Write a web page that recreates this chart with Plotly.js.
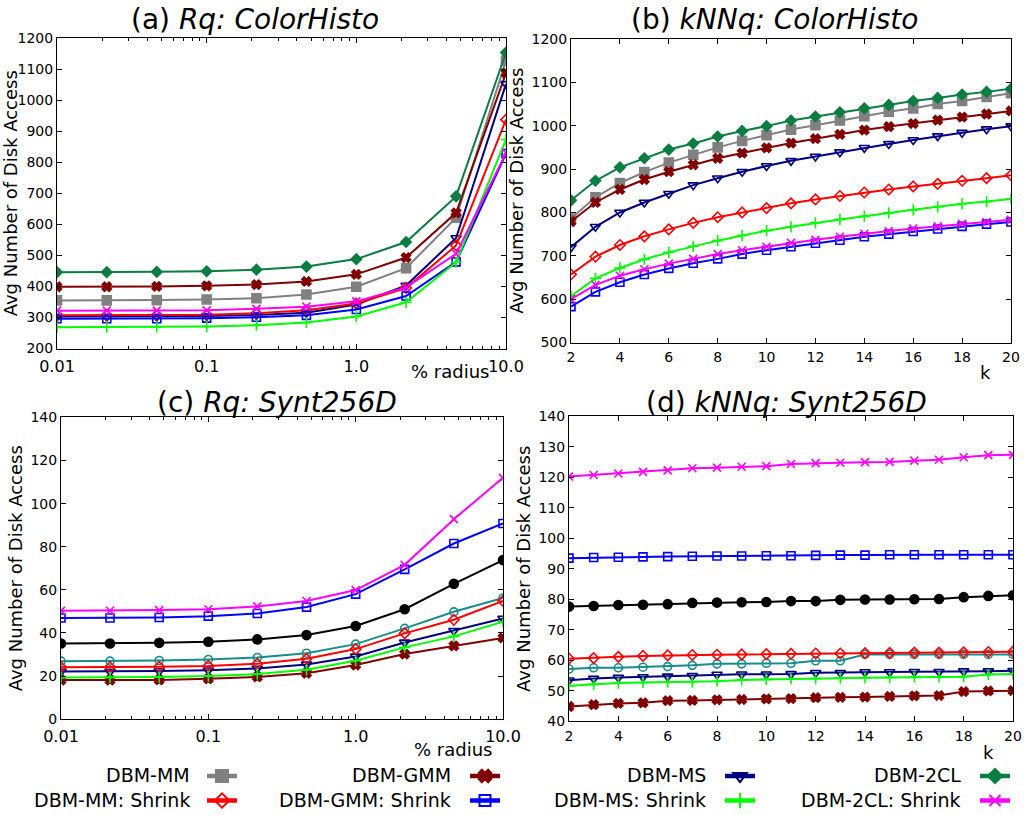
<!DOCTYPE html>
<html>
<head>
<meta charset="utf-8">
<script src="https://cdn.plot.ly/plotly-3.0.1.min.js"></script>
<style>html,body{margin:0;padding:0;background:#fff;}#chart{width:1024px;height:815px;}</style>
</head>
<body>
<div id="chart"></div>
<script>
// ---------- DATA ----------
const radiusX = [0.01, 0.0215, 0.0464, 0.1, 0.215, 0.464, 1.0, 2.15, 4.64, 10.0];
const kX = [2,3,4,5,6,7,8,9,10,11,12,13,14,15,16,17,18,19,20];

const seriesNames = ["DBM-MM","DBM-GMM","DBM-MS","DBM-2CL","DBM-MM: Shrink","DBM-GMM: Shrink","DBM-MS: Shrink","DBM-2CL: Shrink"];
const seriesKeys  = ["mm","gmm","ms","cl2","mmS","gmmS","msS","cl2S"];

// (a) Rq: ColorHisto
const a_mm   = [355,355,356,358,362,374,399,459,621,1127];
const a_gmm  = [399,399,400,402,406,416,439,493,637,1087];
const a_ms   = [303,303,303,305,308,315,342,403,556,1052];
const a_cl2  = [446,446,447,449,454,464,488,543,690,1153];
const a_mmS  = [307,307,308,309,314,323,345,395,532,937];
const a_gmmS = [296,296,296,298,301,307,326,369,479,828];
const a_msS  = [269,269,270,271,275,284,303,349,478,873];
const a_cl2S = [322,322,322,323,328,335,352,397,505,830];

// (b) kNNq: ColorHisto
const b_mm   = [786,835,868,893,915,933,950,965,978,991,1001,1012,1022,1032,1040,1050,1057,1066,1075];
const b_gmm  = [779,823,853,876,894,910,925,937,949,960,970,980,990,998,1005,1013,1020,1027,1034];
const b_ms   = [720,767,800,823,843,863,879,894,907,919,929,939,949,958,967,976,984,992,999];
const b_cl2  = [828,873,904,925,945,959,975,988,999,1012,1021,1031,1040,1048,1057,1064,1072,1078,1085];
const b_mmS  = [657,698,725,745,761,776,789,800,810,821,830,838,846,853,860,866,873,879,886];
const b_gmmS = [583,617,639,657,671,683,693,704,713,721,729,736,744,750,756,762,768,773,778];
const b_msS  = [607,648,672,692,708,722,735,747,758,767,776,784,791,799,806,813,820,825,831];
const b_cl2S = [600,633,654,669,682,693,704,713,721,730,737,744,751,757,763,768,774,778,783];

// (c) Rq: Synt256D
const c_mm   = [35.1,35.1,35.4,35.9,37.0,39.0,43.2,51.0,62.8,73.8];
const c_gmm  = [18.1,18.1,18.2,18.7,19.6,21.3,25.1,30.2,34.0,37.7];
const c_ms   = [22.1,22.1,22.3,22.7,23.5,25.4,29.1,35.6,41.0,46.7];
const c_cl2  = [26.9,26.9,27.2,27.7,28.6,30.6,34.8,42.1,49.8,56.2];
const c_mmS  = [24.1,24.1,24.3,24.7,25.7,28.0,32.5,39.8,46.1,54.9];
const c_gmmS = [46.9,46.9,47.2,47.8,49.0,52.0,58.0,69.5,81.5,90.8];
const c_msS  = [19.3,19.3,19.5,20.0,20.9,22.9,27.1,33.3,38.4,45.2];
const c_cl2S = [50.3,50.3,50.6,51.0,52.3,54.8,59.9,71.6,92.8,112.0];

// (d) kNNq: Synt256D
const d_mm   = [77.6,77.8,78.1,78.2,78.4,78.8,78.9,79.0,79.1,79.4,79.4,79.8,79.9,79.9,80.0,80.1,80.7,81.1,81.3];
const d_gmm  = [44.8,45.4,45.8,46.0,46.7,46.8,47.0,47.1,47.3,47.4,47.7,47.8,47.9,48.1,48.3,48.4,49.7,49.9,50.0];
const d_ms   = [53.4,54.0,54.3,54.5,54.7,54.9,55.3,55.4,55.4,55.5,55.9,55.9,56.1,56.1,56.2,56.2,56.4,56.4,56.5];
const d_cl2  = [57.1,57.5,57.5,57.7,57.9,58.3,58.8,58.8,59.0,59.0,59.8,59.8,61.9,61.9,61.9,61.9,61.9,61.9,61.9];
const d_mmS  = [60.5,60.7,61.1,61.4,61.6,61.7,61.8,61.9,62.0,62.1,62.2,62.2,62.3,62.4,62.5,62.5,62.6,62.7,62.8];
const d_gmmS = [93.5,93.7,93.8,93.9,94.0,94.1,94.2,94.2,94.3,94.3,94.4,94.5,94.5,94.6,94.6,94.6,94.6,94.6,94.6];
const d_msS  = [51.6,52.1,52.5,52.7,52.8,52.9,53.1,53.5,53.7,53.9,54.0,54.1,54.2,54.3,54.5,54.5,54.6,55.3,55.5];
const d_cl2S = [120.3,120.8,121.3,121.8,122.3,123.0,123.2,123.5,123.7,124.4,124.7,124.8,125.0,125.1,125.5,125.8,126.6,127.3,127.4];

const logTickVals = [0.01, 0.1, 1, 10];
const logTickText = ["0.01", "0.1", "1.0", "10.0"];
const logMinorVals = [0.02,0.03,0.04,0.05,0.06,0.07,0.08,0.09,0.2,0.3,0.4,0.5,0.6,0.7,0.8,0.9,2,3,4,5,6,7,8,9];

const panelTitles = ["(a) <i>Rq: ColorHisto</i>", "(b) <i>kNNq: ColorHisto</i>", "(c) <i>Rq: Synt256D</i>", "(d) <i>kNNq: Synt256D</i>"];
const yTitle = "Avg Number of Disk Access";

// ---------- STYLES ----------
const FONT = "DejaVu Sans, Liberation Sans, Arial, sans-serif";
const styleTop = {
  mm:   {color:"#808080", symbol:"square", size:9},
  gmm:  {color:"#800000", symbol:"x", size:8},
  ms:   {color:"#000080", symbol:"triangle-down-open", size:9},
  cl2:  {color:"#0a7d40", symbol:"diamond", size:8},
  mmS:  {color:"#ff0000", symbol:"diamond-open", size:8},
  gmmS: {color:"#0000ff", symbol:"square-open", size:8},
  msS:  {color:"#00ff00", symbol:"cross-thin-open", size:8},
  cl2S: {color:"#ff00ff", symbol:"x-thin-open", size:8}
};
const styleBottom = Object.assign({}, styleTop, {
  mm:  {color:"#000000", symbol:"circle", size:9},
  cl2: {color:"#168c8c", symbol:"circle-open", size:8}
});

const panels = [
  {x: radiusX, data:{mm:a_mm,gmm:a_gmm,ms:a_ms,cl2:a_cl2,mmS:a_mmS,gmmS:a_gmmS,msS:a_msS,cl2S:a_cl2S}, xa:"x",  ya:"y",  st:styleTop},
  {x: kX,      data:{mm:b_mm,gmm:b_gmm,ms:b_ms,cl2:b_cl2,mmS:b_mmS,gmmS:b_gmmS,msS:b_msS,cl2S:b_cl2S}, xa:"x2", ya:"y2", st:styleTop},
  {x: radiusX, data:{mm:c_mm,gmm:c_gmm,ms:c_ms,cl2:c_cl2,mmS:c_mmS,gmmS:c_gmmS,msS:c_msS,cl2S:c_cl2S}, xa:"x3", ya:"y3", st:styleBottom},
  {x: kX,      data:{mm:d_mm,gmm:d_gmm,ms:d_ms,cl2:d_cl2,mmS:d_mmS,gmmS:d_gmmS,msS:d_msS,cl2S:d_cl2S}, xa:"x4", ya:"y4", st:styleBottom}
];

const traces = [];
panels.forEach(p => {
  seriesKeys.forEach((key, i) => {
    const s = p.st[key];
    traces.push({
      type: "scatter", mode: "lines+markers",
      x: p.x, y: p.data[key], xaxis: p.xa, yaxis: p.ya,
      name: seriesNames[i], showlegend: false, hoverinfo: "skip",
      line: {color: s.color, width: 2},
      marker: {symbol: s.symbol, size: s.size, color: s.color, line: {color: s.color, width: 1.6}}
    });
  });
});

// legend entries (one small legend per entry so that text can sit to the left of the sample)
const W = 1024, H = 815;
const legCenters = [222, 485, 740, 995];
const legTextRight = [192, 453, 708, 963];
const legRows = [776, 801];
const annotations = [];
seriesKeys.forEach((key, i) => {
  const s = styleTop[key];
  const col = i % 4, row = Math.floor(i / 4);
  const lname = i === 0 ? "legend" : "legend" + (i + 1);
  traces.push({
    type: "scatter", mode: "lines+markers", x: [null], y: [null], xaxis: "x", yaxis: "y",
    name: " ", legend: lname, showlegend: true, hoverinfo: "skip",
    line: {color: s.color, width: 4.5},
    marker: {symbol: s.symbol, size: s.size + 3, color: s.color, line: {color: s.color, width: 2}}
  });
  annotations.push({
    xref: "paper", yref: "paper", x: legTextRight[col] / W, y: 1 - legRows[row] / H,
    xanchor: "right", yanchor: "middle", showarrow: false,
    text: seriesNames[i], font: {family: FONT, size: 19, color: "#000"}
  });
});

// titles
const titlePos = [[255, 20], [774, 20], [277, 403], [786, 403]];
panelTitles.forEach((t, i) => {
  annotations.push({
    xref: "paper", yref: "paper", x: titlePos[i][0] / W, y: 1 - titlePos[i][1] / H,
    xanchor: "center", yanchor: "middle", showarrow: false,
    text: t, font: {family: FONT, size: 28, color: "#000"}
  });
});
// x axis titles
const xTitles = [["% radius", 450, 372], ["k", 985, 373], ["% radius", 453, 750], ["k", 988, 753]];
xTitles.forEach(t => {
  annotations.push({
    xref: "paper", yref: "paper", x: t[1] / W, y: 1 - t[2] / H,
    xanchor: "center", yanchor: "middle", showarrow: false,
    text: t[0], font: {family: FONT, size: 18, color: "#000"}
  });
});

function dom(a, b) { return [a / W, b / W]; }
function domY(top, bottom) { return [1 - bottom / H, 1 - top / H]; }

const axisBase = {
  showline: true, linecolor: "#000", linewidth: 1, mirror: "ticks",
  ticks: "inside", ticklen: 5, tickcolor: "#000", showgrid: false, zeroline: false,
  tickfont: {family: FONT, size: 14, color: "#000"}
};
function logX(anchor, d) {
  return Object.assign({}, axisBase, {
    type: "log", range: [-2, 1], domain: d, anchor: anchor,
    tickmode: "array", tickvals: logTickVals, ticktext: logTickText,
    tickfont: {family: FONT, size: 16, color: "#000"}, ticklabelstandoff: 3,
    minor: {tickmode: "array", tickvals: logMinorVals, ticks: "inside", ticklen: 3, tickcolor: "#000", showgrid: false}
  });
}
function kAxis(anchor, d) {
  return Object.assign({}, axisBase, {
    range: [2, 20], dtick: 2, tick0: 2, domain: d, anchor: anchor,
    tickfont: {family: FONT, size: 14, color: "#000"}, ticklabelstandoff: 2
  });
}
function yAx(anchor, d, r, dt) {
  return Object.assign({}, axisBase, {
    range: r, dtick: dt, domain: d, anchor: anchor,
    title: {text: yTitle, font: {family: FONT, size: 18, color: "#000"}, standoff: 3}
  });
}

const layout = {
  width: W, height: H,
  margin: {l: 0, r: 0, t: 0, b: 0},
  paper_bgcolor: "#fff", plot_bgcolor: "#fff",
  font: {family: FONT, color: "#000"},
  showlegend: true,
  xaxis:  logX("y",  dom(57, 506)),
  yaxis:  yAx("x",  domY(38, 349), [200, 1200], 100),
  xaxis2: kAxis("y2", dom(571, 1011)),
  yaxis2: yAx("x2", domY(39, 343), [500, 1200], 100),
  xaxis3: logX("y3", dom(61, 503)),
  yaxis3: yAx("x3", domY(418, 720), [0, 140], 20),
  xaxis4: kAxis("y4", dom(569, 1013)),
  yaxis4: yAx("x4", domY(417, 722), [40, 140], 10),
  annotations: annotations
};
seriesKeys.forEach((key, i) => {
  const col = i % 4, row = Math.floor(i / 4);
  const lname = i === 0 ? "legend" : "legend" + (i + 1);
  layout[lname] = {
    x: (legCenters[col] - 20) / W, y: 1 - legRows[row] / H,
    xanchor: "left", yanchor: "middle",
    bgcolor: "rgba(0,0,0,0)", borderwidth: 0,
    font: {family: FONT, size: 10}, itemwidth: 30
  };
});

Plotly.newPlot("chart", traces, layout, {staticPlot: true});
</script>
</body>
</html>
